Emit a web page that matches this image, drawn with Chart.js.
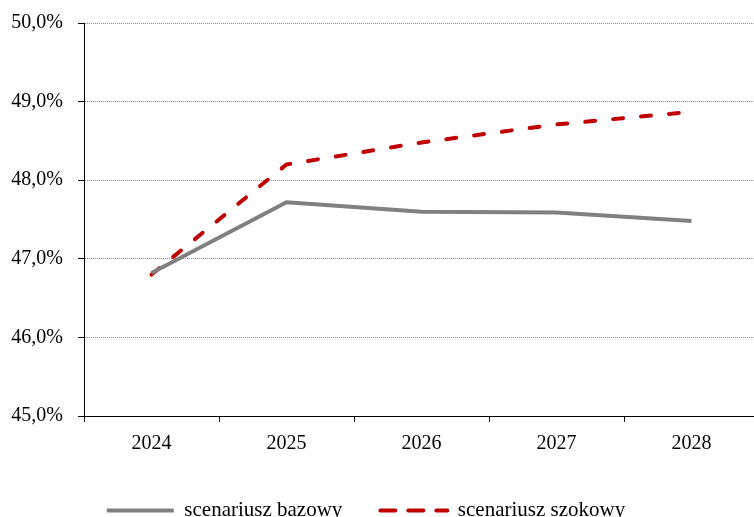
<!DOCTYPE html>
<html>
<head>
<meta charset="utf-8">
<script src="https://cdn.jsdelivr.net/npm/chart.js@4"></script>
<style>
  html, body { margin: 0; padding: 0; background: #fff; overflow: hidden; width: 754px; height: 517px; }
  #wrap { position: absolute; left: 0; top: 0; width: 780px; height: 531px; }
</style>
</head>
<body>
<div id="wrap"><canvas id="c" width="780" height="531"></canvas></div>
<script>
const categories = ["2024", "2025", "2026", "2027", "2028"];
const bazowy = [46.82, 47.72, 47.60, 47.59, 47.48];
const szokowy = [46.80, 48.20, 48.48, 48.71, 48.87];
const seriesNames = ["scenariusz bazowy", "scenariusz szokowy"];

const FONT = { family: "'Liberation Serif', 'Times New Roman', serif", size: 20 };
const LEGEND_FONT = { family: "'Liberation Serif', 'Times New Roman', serif", size: 21 };

const legendShift = {
  id: 'legendShift',
  afterLayout(chart) {
    const l = chart.legend;
    if (l) { l.left -= 19; l.right -= 19; }
  }
};

new Chart(document.getElementById('c'), {
  type: 'line',
  data: {
    labels: categories,
    datasets: [
      {
        label: seriesNames[0],
        data: bazowy,
        borderColor: '#808080',
        backgroundColor: '#808080',
        borderWidth: 4,
        pointRadius: 0,
        tension: 0,
        borderCapStyle: 'butt',
        borderJoinStyle: 'round'
      },
      {
        label: seriesNames[1],
        data: szokowy,
        borderColor: '#C00000',
        backgroundColor: '#C00000',
        borderWidth: 4,
        pointRadius: 0,
        tension: 0,
        borderDash: [10, 18],
        borderCapStyle: 'round',
        borderJoinStyle: 'round'
      }
    ]
  },
  options: {
    responsive: false,
    animation: false,
    layout: { padding: { left: 11, right: 21, top: 23, bottom: 0 } },
    plugins: {
      tooltip: { enabled: false },
      legend: {
        position: 'bottom',
        labels: {
          usePointStyle: true,
          pointStyle: 'line',
          pointStyleWidth: 67,
          padding: 38,
          color: '#000',
          font: LEGEND_FONT,
          generateLabels(chart) {
            const items = Chart.defaults.plugins.legend.labels.generateLabels(chart);
            items.forEach((it) => {
              const ds = chart.data.datasets[it.datasetIndex];
              it.strokeStyle = ds.borderColor;
              it.lineWidth = 4;
              it.lineCap = ds.borderCapStyle;
              it.lineDash = ds.borderDash ? [15, 13] : [];
              it.pointStyle = 'line';
            });
            return items;
          }
        }
      }
    },
    scales: {
      x: {
        type: 'category',
        offset: true,
        afterFit(scale) { scale.height = 46; },
        grid: {
          offset: true,
          drawOnChartArea: false,
          drawTicks: true,
          tickLength: 6,
          color: '#000',
          tickColor: '#000'
        },
        border: { display: true, color: '#000', width: 1 },
        ticks: { color: '#000', font: FONT, padding: 10, maxRotation: 0 }
      },
      y: {
        min: 45,
        max: 50,
        afterFit(scale) { scale.width = 73; scale.paddingTop = 0; scale.paddingBottom = 0; },
        ticks: {
          stepSize: 1,
          color: '#000',
          font: FONT,
          padding: 15,
          callback: (v) => v.toFixed(1).replace('.', ',') + '%'
        },
        grid: {
          color: '#8c8c8c',
          tickColor: '#000',
          tickLength: 6,
          tickBorderDash: [],
          drawTicks: true
        },
        border: { display: true, color: '#000', width: 1, dash: [1, 1] }
      }
    }
  },
  plugins: [legendShift]
});
</script>
</body>
</html>
